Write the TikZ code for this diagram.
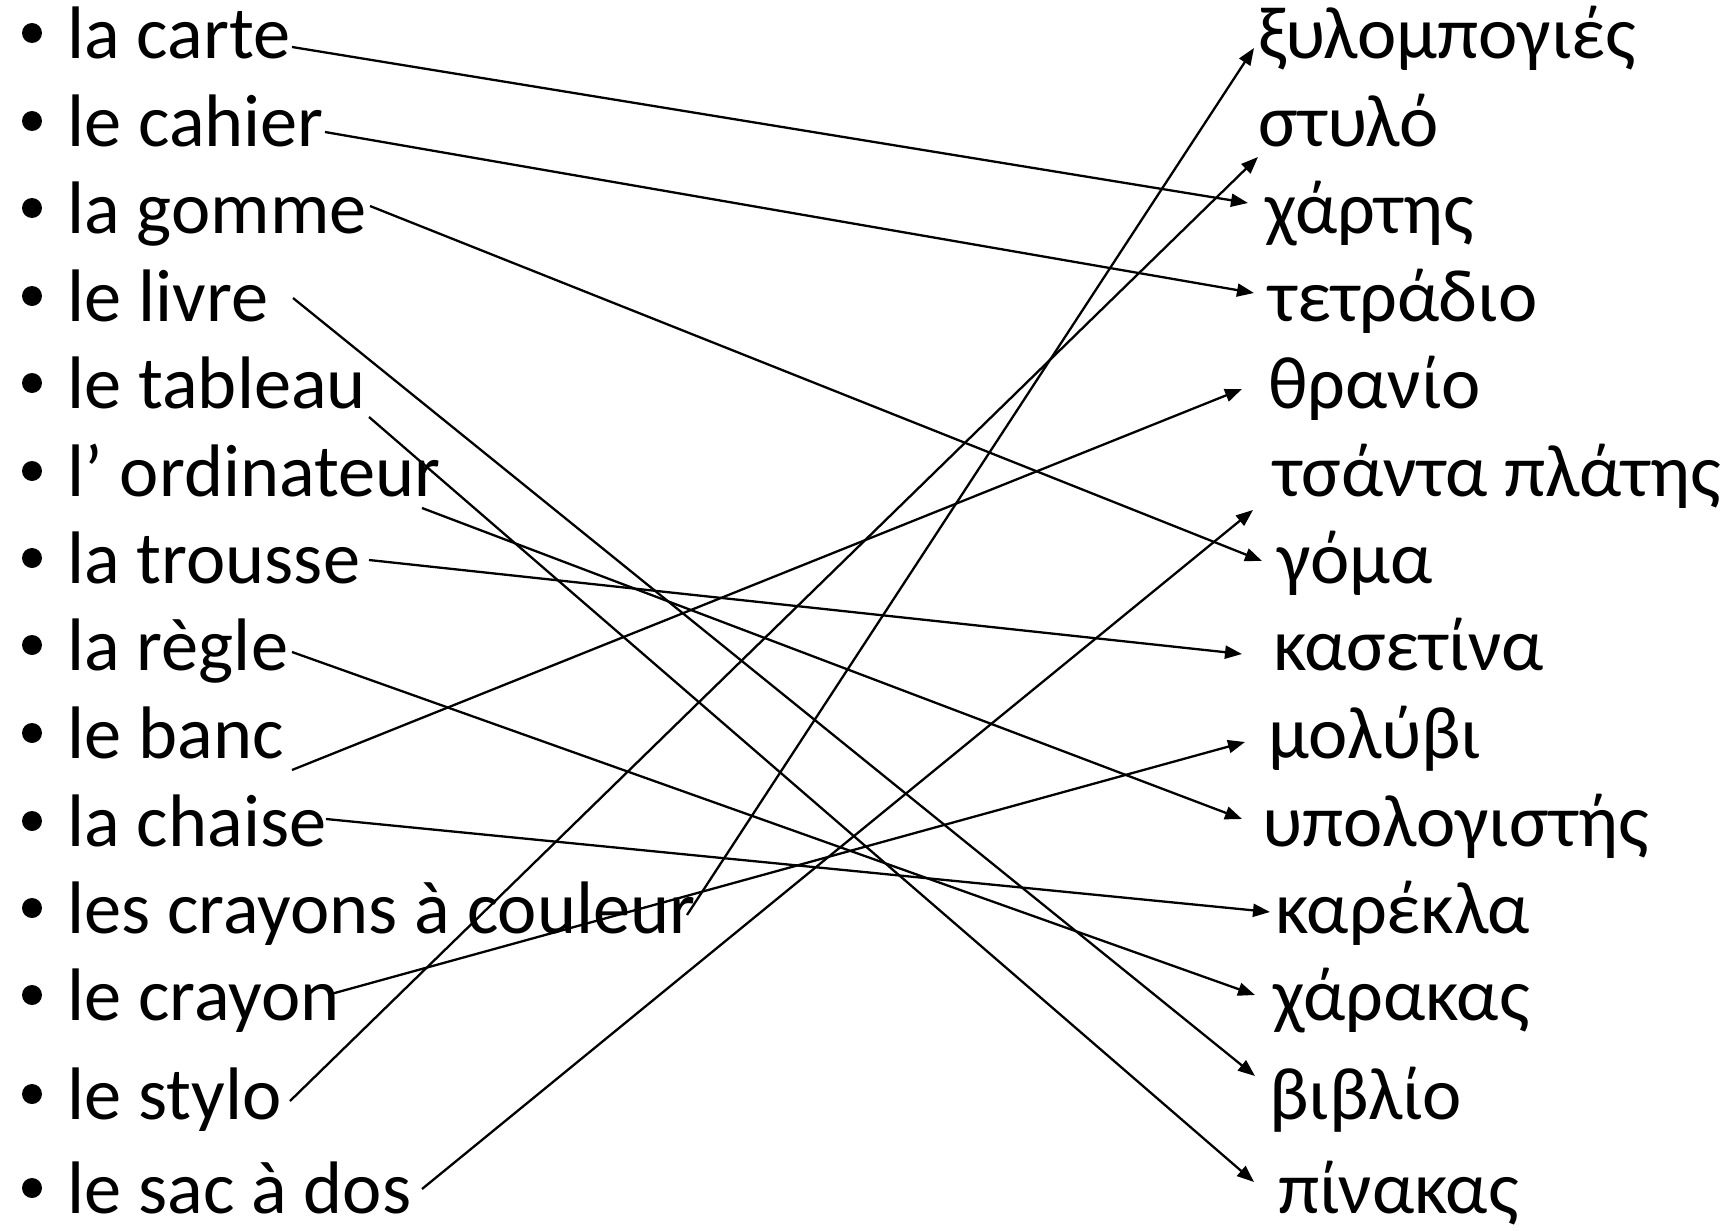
\documentclass[tikz,border=0pt]{standalone}
\usepackage{fontspec}
\setmainfont{Carlito}
\usetikzlibrary{arrows.meta}
\begin{document}
\begin{tikzpicture}[x=0.5pt,y=-0.5pt,
  word/.style={anchor=base west,inner sep=0pt,font=\fontsize{37.2pt}{44pt}\selectfont},
  link/.style={line width=1.15pt,-{Triangle[length=8.5pt,width=6.5pt]}},
  dot/.style={circle,fill=black,inner sep=0pt,minimum size=10pt}]
\useasboundingbox[fill=white] (0,0) rectangle (1731,1231);
% left column
\foreach \n/\y/\t in {1/58/la carte,2/146/le cahier,3/233/la gomme,4/321/le livre,5/408/le tableau,6/496/l’ ordinateur,7/583/la trousse,8/670/la règle,9/758/le banc,10/846/la chaise,11/933/les crayons à couleur,12/1020/le crayon,13/1119/le stylo,14/1213/le sac à dos}{
  \node[dot] (d\n) at (32,\y-25) {};
  \node[word] (L\n) at (67,\y) {\t};
}
% right column
\node[word] (R1) at (1258,58) {ξυλομπογιές};
\node[word] (R2) at (1258,146) {στυλό};
\node[word] (R3) at (1265,233) {χάρτης};
\node[word] (R4) at (1268,321) {τετράδιο};
\node[word] (R5) at (1268,408) {θρανίο};
\node[word] (R6) at (1273,496) {τσάντα πλάτης};
\node[word] (R7) at (1277,583) {γόμα};
\node[word] (R8) at (1273,670) {κασετίνα};
\node[word] (R9) at (1268,758) {μολύβι};
\node[word] (R10) at (1262,846) {υπολογιστής};
\node[word] (R11) at (1275,933) {καρέκλα};
\node[word] (R12) at (1273,1020) {χάρακας};
\node[word] (R13) at (1269,1119) {βιβλίο};
\node[word] (R14) at (1278,1213) {πίνακας};
% connector ends
\coordinate (s1) at (292,47);   \coordinate (t1) at (1248,203);
\coordinate (s2) at (325,132);  \coordinate (t2) at (1254,293);
\coordinate (s3) at (370,206);  \coordinate (t3) at (1262,561);
\coordinate (s4) at (293,298);  \coordinate (t4) at (1255,1076);
\coordinate (s5) at (369,417);  \coordinate (t5) at (1254,1182);
\coordinate (s6) at (422,508);  \coordinate (t6) at (1242,819);
\coordinate (s7) at (369,560);  \coordinate (t7) at (1242,654);
\coordinate (s8) at (292,652);  \coordinate (t8) at (1255,995);
\coordinate (s9) at (292,770);  \coordinate (t9) at (1242,389);
\coordinate (s10) at (326,819); \coordinate (t10) at (1270,912);
\coordinate (s11) at (687,915); \coordinate (t11) at (1254,48);
\coordinate (s12) at (331,994); \coordinate (t12) at (1245,742);
\coordinate (s13) at (290,1101);\coordinate (t13) at (1258,157);
\coordinate (s14) at (422,1189);\coordinate (t14) at (1253,510);
\foreach \i in {1,...,14}{\draw[link] (s\i) -- (t\i);}
\end{tikzpicture}
\end{document}
